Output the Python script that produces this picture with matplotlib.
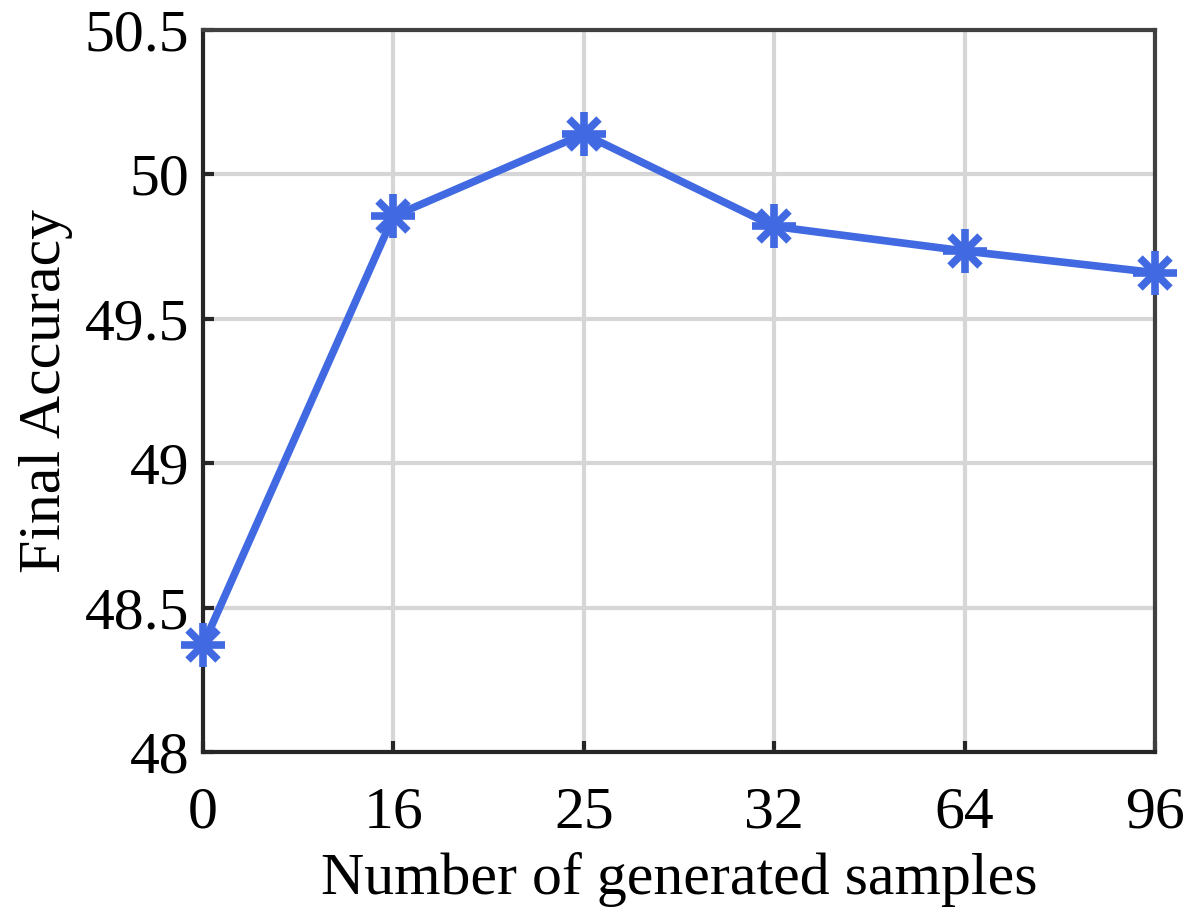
import matplotlib.pyplot as plt
import numpy as np

plt.rcParams['font.family'] = ['Liberation Serif', 'DejaVu Serif']

# dane
samples = ['0', '16', '25', '32', '64', '96']
accuracy = [48.37, 49.855, 50.14, 49.82, 49.735, 49.66]

kolor = '#4169E1'
x = np.arange(len(samples))

fig = plt.figure(figsize=(11.87, 9.11), dpi=100)
ax = fig.add_axes([0.171, 0.1745, 0.802, 0.7925])

ax.plot(x, accuracy, color=kolor, linewidth=5.5, zorder=3)
# gwiazdka jak w matlabie: plus + krzyzyk
ax.plot(x, accuracy, linestyle='none', marker='+', markersize=31, markeredgewidth=5.5,
        color=kolor, zorder=4, clip_on=False)
ax.plot(x, accuracy, linestyle='none', marker='x', markersize=22, markeredgewidth=5.5,
        color=kolor, zorder=4, clip_on=False)

ax.set_xlim(0, 5)
ax.set_ylim(48, 50.5)
ax.set_xticks(x)
ax.set_xticklabels(samples)
ax.set_yticks([48, 48.5, 49, 49.5, 50, 50.5])
ax.set_yticklabels(['48', '48.5', '49', '49.5', '50', '50.5'])

ax.grid(True, color='#d6d6d6', linewidth=3)
ax.set_axisbelow(True)
for k, s in ax.spines.items():
    s.set_linewidth(3)
    s.set_color('#262626' if k in ('left', 'bottom') else '#404040')
ax.tick_params(direction='in', length=8, width=3, labelsize=43, color='#262626',
               top=False, right=False)
ax.tick_params(axis='x', pad=25)
ax.tick_params(axis='y', pad=10)

ax.set_xlabel('Number of generated samples', fontsize=43, labelpad=8)
ax.set_ylabel('Final Accuracy', fontsize=43, labelpad=8)

plt.savefig('out.png')
